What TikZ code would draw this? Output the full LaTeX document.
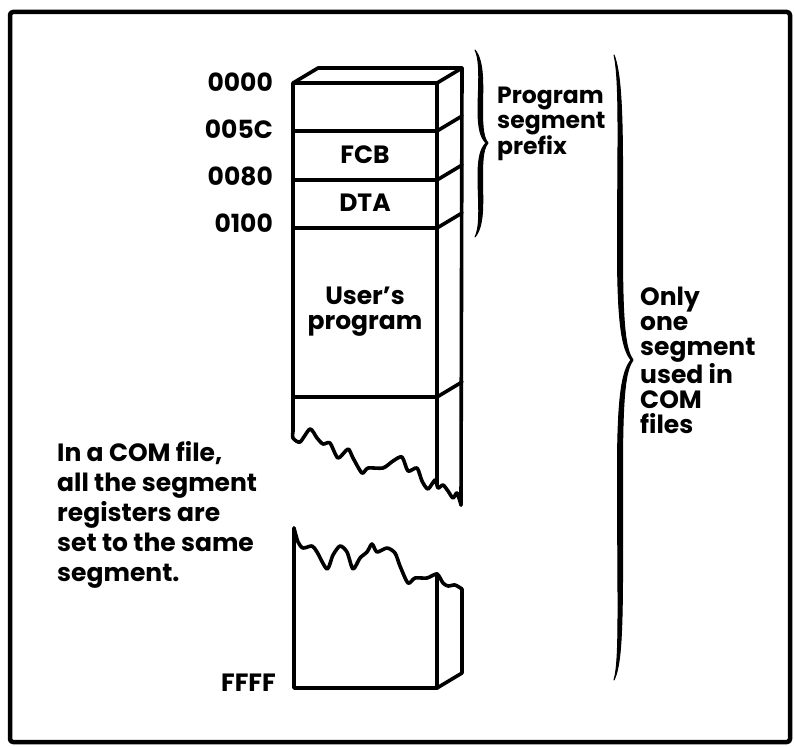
\documentclass[tikz,border=0pt]{standalone}
\usepackage{fontspec}
\setmainfont{Poppins}
\begin{document}
\begin{tikzpicture}[x=1pt,y=-1pt,line join=round,line cap=round,
  edge/.style={line width=3.6pt},
  rip/.style={line width=3.6pt,smooth,tension=0.45},
  brace/.style={fill=black,draw=black,line width=1pt},
  lbl/.style={font=\bfseries\fontsize{25}{25}\selectfont,inner sep=0pt},
  note/.style={lbl,align=left,anchor=north west}]
\useasboundingbox (0,0) rectangle (794,746);
% outer frame
\draw[line width=4.5pt,rounded corners=3pt] (10,12) rectangle (790,742);

% upper block: front face, top face and side face
\coordinate (fl) at (293,83);
\coordinate (fr) at (437,83);
\coordinate (bl) at (318,68);
\coordinate (br) at (462,68);
\draw[edge] (293,431) -- (fl) -- (bl) -- (br) -- (fr) -- (fl);
\draw[edge] (fr) -- (437,484);
\draw[edge] (br) -- (461,505);
\foreach \y in {131,180,228,397}
  \draw[edge] (293,\y) -- (437,\y) -- (462,\y-15);
% torn lower edge of the upper block
\draw[rip] plot coordinates {(293,431) (293,438) (300,442) (310,429) (317,438)
  (323,444) (330,443) (338,458) (348,449) (353,458) (362,473) (368,468)
  (383,468) (393,461) (402,457) (408,471) (417,468) (422,481) (428,489)
  (435,480) (438,488) (443,485) (448,491) (453,498) (457,493) (461,505)};

% lower block
\draw[edge] (294,528) -- (294,688) -- (437,688) -- (462,673) -- (462,589);
\draw[edge] (437,574) -- (437,688);
\draw[rip] plot coordinates {(294,528) (298,542) (303,548) (312,546) (317,552)
  (327,569) (333,555) (340,546) (347,552) (353,569) (360,558) (367,552)
  (372,544) (377,552) (387,548) (395,553) (400,566) (408,583) (415,578)
  (427,578) (437,574) (443,583) (448,586) (455,585) (462,589)};

% addresses
\node[lbl,anchor=east] (a0) at (273,82) {0000};
\node[lbl,anchor=east] (a1) at (273,129) {005C};
\node[lbl,anchor=east] (a2) at (273,176) {0080};
\node[lbl,anchor=east] (a3) at (273,223) {0100};
\node[lbl,anchor=east] (a4) at (276,683) {FFFF};

% block contents
\node[lbl] (fcb) at (365,155) {FCB};
\node[lbl] (dta) at (365,203) {DTA};
\node[lbl,align=center] (usr) at (365,312) {User’s\\program};

% braces, drawn as tapered filled outlines
\path[brace] (475,50) .. controls (481,62) and (478,90) .. (478,110)
  .. controls (478,130) and (481,138) .. (486,143)
  .. controls (481,148) and (478,156) .. (478,176)
  .. controls (478,200) and (481,225) .. (475,237)
  .. controls (485,225) and (482.5,200) .. (482.5,176)
  .. controls (482.5,156) and (484,148) .. (488,143)
  .. controls (484,138) and (482.5,130) .. (482.5,110)
  .. controls (482.5,90) and (485,62) .. (475,50) -- cycle;
\path[brace] (614,55) .. controls (620,80) and (617.5,150) .. (617.5,250)
  .. controls (617.5,330) and (623,350) .. (631,360)
  .. controls (623,370) and (617.5,390) .. (617.5,470)
  .. controls (617.5,600) and (620,660) .. (614,680)
  .. controls (624,660) and (622.5,600) .. (622.5,470)
  .. controls (622.5,390) and (626,370) .. (633,360)
  .. controls (626,350) and (622.5,330) .. (622.5,250)
  .. controls (622.5,150) and (624,80) .. (614,55) -- cycle;

% notes
\node[note,font=\bfseries\fontsize{23.5}{25}\selectfont] (psp) at (497,87)
  {Program\\segment\\prefix};
\node[note,anchor=west] (one) at (640,360) {Only\\one\\segment\\used in\\COM\\files};
\node[note,anchor=west,font=\bfseries\fontsize{25}{30}\selectfont] (com) at (57,515)
  {In a COM file,\\all the segment\\registers are\\set to the same\\segment.};
\end{tikzpicture}
\end{document}
